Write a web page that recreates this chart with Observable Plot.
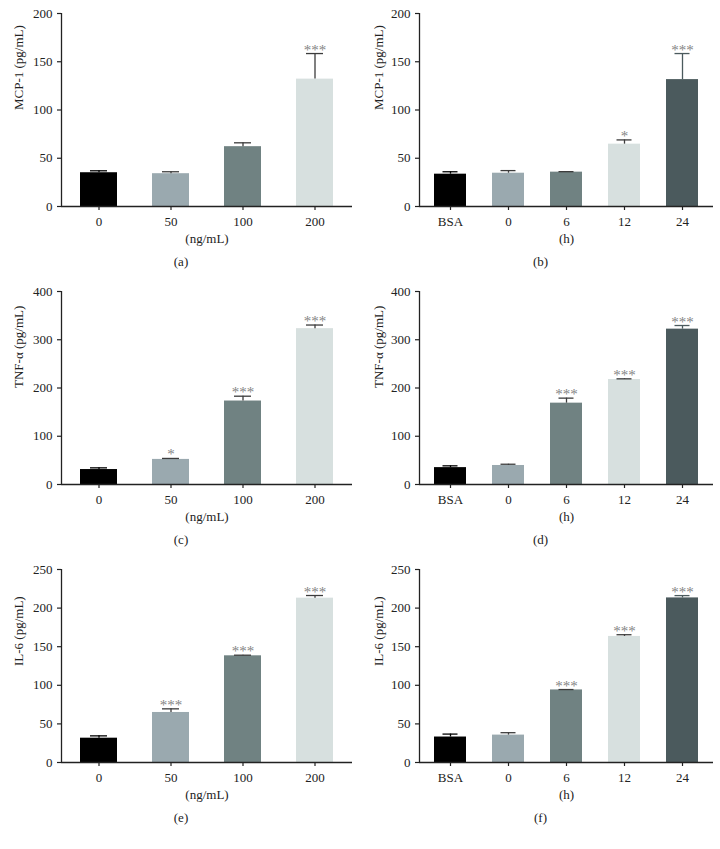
<!DOCTYPE html>
<html><head><meta charset="utf-8">
<script src="https://cdn.jsdelivr.net/npm/d3@7"></script>
<script src="https://cdn.jsdelivr.net/npm/@observablehq/plot@0.6"></script>
<style>
body{margin:0;background:#fff;}
#root{position:relative;width:720px;height:849px;font-family:"Liberation Serif",serif;}
.panel{position:absolute;width:360px;height:280px;}
</style></head><body><div id="root"></div>
<script>
// categories
const doseCats = ["0", "50", "100", "200"];
const timeCats = ["BSA", "0", "6", "12", "24"];
const doseColors = ["#000000", "#9aa9af", "#708282", "#d7e0df"];
const timeColors = ["#000000", "#9aa9af", "#708282", "#d7e0df", "#4b5a5d"];
const doseErrColors = ["#000000", "#3c3c3c", "#3c3c3c", "#3c3c3c"];
const timeErrColors = ["#000000", "#3c3c3c", "#3c3c3c", "#3c3c3c", "#4b5a5d"];

// (a) MCP-1 vs dose
const mcp1DoseMean = [35, 34, 62, 132];
const mcp1DoseErr = [2, 2, 4, 26.5];
const mcp1DoseSig = ["", "", "", "***"];
// (b) MCP-1 vs time
const mcp1TimeMean = [33.5, 34.5, 35.6, 64.6, 131.5];
const mcp1TimeErr = [2.5, 2.7, 0.5, 4.4, 27];
const mcp1TimeSig = ["", "", "", "*", "***"];
// (c) TNF-α vs dose
const tnfDoseMean = [31, 52, 173, 323];
const tnfDoseErr = [3.5, 2, 10, 7.5];
const tnfDoseSig = ["", "*", "***", "***"];
// (d) TNF-α vs time
const tnfTimeMean = [35, 39.4, 168.6, 217.6, 322];
const tnfTimeErr = [3.7, 2.6, 10.4, 1.4, 7.5];
const tnfTimeSig = ["", "", "***", "***", "***"];
// (e) IL-6 vs dose
const il6DoseMean = [31.5, 64.8, 138.2, 212.9];
const il6DoseErr = [3, 4.7, 0.8, 3.4];
const il6DoseSig = ["", "***", "***", "***"];
// (f) IL-6 vs time
const il6TimeMean = [33, 35.5, 94, 163.3, 213.2];
const il6TimeErr = [3.8, 3.1, 0.5, 2.2, 3];
const il6TimeSig = ["", "", "***", "***", "***"];

const mcpTicks = [0, 50, 100, 150, 200];
const tnfTicks = [0, 100, 200, 300, 400];
const il6Ticks = [0, 50, 100, 150, 200, 250];

const FS = 13;
function panel(o) {
  const data = o.cats.map((c, i) => ({
    cat: c, mean: o.mean[i], top: o.mean[i] + o.err[i], sig: o.sig[i],
    fill: o.colors[i], ec: o.errColors[i]
  }));
  const n = o.cats.length;
  const inset = n === 4 ? 10 : 8.5;
  const yMax = o.ticks[o.ticks.length - 1];
  const frameW = 360 - o.ml - o.mr;
  return Plot.plot({
    width: 360, height: 280,
    marginLeft: o.ml, marginRight: o.mr, marginTop: 13, marginBottom: 74,
    style: {fontFamily: '"Liberation Serif", serif', fontSize: "13px", color: "#222", background: "transparent"},
    x: {domain: o.cats, paddingInner: n === 4 ? 0.49 : 0.44, paddingOuter: n === 4 ? 0.25 : 0.22, label: null},
    y: {domain: [0, yMax], label: null},
    color: {type: "identity"},
    marks: [
      Plot.barY(data, {x: "cat", y: "mean", fill: "fill"}),
      Plot.ruleX(data, {x: "cat", y1: "mean", y2: "top", stroke: "ec", strokeWidth: 1.3}),
      Plot.tickY(data, {x: "cat", y: "top", stroke: "ec", strokeWidth: 1.3, insetLeft: inset, insetRight: inset}),
      Plot.text(data.filter(d => d.sig), {x: "cat", y: "top", text: "sig", lineAnchor: "bottom", dy: 1, fill: "#858585", fontSize: 15}),
      Plot.axisY({ticks: o.ticks, tickSize: 4, tickPadding: 5, label: null, strokeWidth: 1.2, fontSize: FS}),
      Plot.axisX({tickSize: 4, tickPadding: 6, label: null, strokeWidth: 1.2, fontSize: FS}),
      Plot.ruleY([0], {stroke: "#222", strokeWidth: 1.3}),
      Plot.ruleX([0], {x: null, y1: 0, y2: yMax, dx: -frameW / 2, stroke: "#222", strokeWidth: 1.3}),
      Plot.text([o.yLabel], {frameAnchor: "left", rotate: -90, dx: 18 - o.ml, text: d => d, fontSize: FS, fill: "#222"}),
      Plot.text([o.xLabel], {frameAnchor: "bottom", dy: 36, text: d => d, fontSize: FS, fill: "#222"}),
      Plot.text([o.caption], {frameAnchor: "bottom", dy: 59, dx: -26, text: d => d, fontSize: FS, fill: "#222"})
    ]
  });
}

const specs = [
  {left: 0, top: 0, cats: doseCats, colors: doseColors, errColors: doseErrColors, mean: mcp1DoseMean, err: mcp1DoseErr, sig: mcp1DoseSig, ticks: mcpTicks, yLabel: "MCP-1 (pg/mL)", xLabel: "(ng/mL)", caption: "(a)", ml: 61, mr: 8},
  {left: 360, top: 0, cats: timeCats, colors: timeColors, errColors: timeErrColors, mean: mcp1TimeMean, err: mcp1TimeErr, sig: mcp1TimeSig, ticks: mcpTicks, yLabel: "MCP-1 (pg/mL)", xLabel: "(h)", caption: "(b)", ml: 59, mr: 7},
  {left: 0, top: 278, cats: doseCats, colors: doseColors, errColors: doseErrColors, mean: tnfDoseMean, err: tnfDoseErr, sig: tnfDoseSig, ticks: tnfTicks, yLabel: "TNF-α (pg/mL)", xLabel: "(ng/mL)", caption: "(c)", ml: 61, mr: 8},
  {left: 360, top: 278, cats: timeCats, colors: timeColors, errColors: timeErrColors, mean: tnfTimeMean, err: tnfTimeErr, sig: tnfTimeSig, ticks: tnfTicks, yLabel: "TNF-α (pg/mL)", xLabel: "(h)", caption: "(d)", ml: 59, mr: 7},
  {left: 0, top: 556, cats: doseCats, colors: doseColors, errColors: doseErrColors, mean: il6DoseMean, err: il6DoseErr, sig: il6DoseSig, ticks: il6Ticks, yLabel: "IL-6 (pg/mL)", xLabel: "(ng/mL)", caption: "(e)", ml: 61, mr: 8},
  {left: 360, top: 556, cats: timeCats, colors: timeColors, errColors: timeErrColors, mean: il6TimeMean, err: il6TimeErr, sig: il6TimeSig, ticks: il6Ticks, yLabel: "IL-6 (pg/mL)", xLabel: "(h)", caption: "(f)", ml: 59, mr: 7}
];

const root = document.getElementById("root");
for (const s of specs) {
  const div = document.createElement("div");
  div.className = "panel";
  div.style.left = s.left + "px";
  div.style.top = s.top + "px";
  div.appendChild(panel(s));
  root.appendChild(div);
}
</script>
</body></html>
